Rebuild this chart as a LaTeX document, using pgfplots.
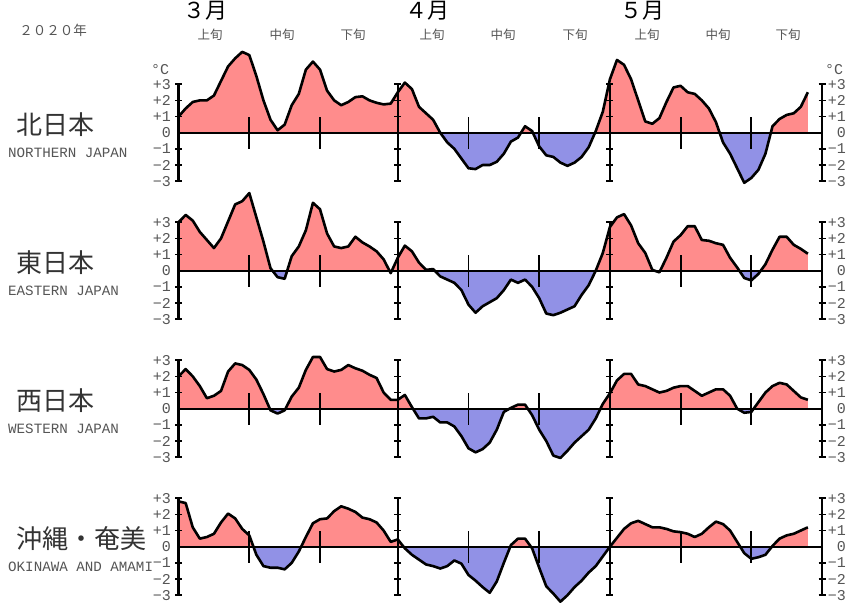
\documentclass[border=0pt]{standalone}
\usepackage{fontspec}
\usepackage{pgfplots}
\usepackage{pgfplotstable}
\pgfplotsset{compat=1.18}

\newfontfamily\mono{Liberation Mono}
\newfontfamily\cjk{Noto Sans CJK JP}

\definecolor{pos}{RGB}{255,140,140}
\definecolor{neg}{RGB}{145,145,230}
\definecolor{txt}{RGB}{85,85,85}

% daily temperature anomaly (5-day mean), day 0 = 1 March
\pgfplotstableread{
d n e w o
0 1.0 3.0 2.0 2.8
1 1.5 3.45 2.45 2.7
2 1.9 3.1 2.0 1.2
3 2.0 2.4 1.4 0.5
4 2.0 1.9 0.65 0.6
5 2.3 1.4 0.8 0.8
6 3.2 2.0 1.1 1.5
7 4.1 3.05 2.3 2.05
8 4.6 4.1 2.8 1.75
9 5.0 4.3 2.7 1.1
10 4.8 4.8 2.4 0.7
11 3.5 3.3 1.8 -0.5
12 2.0 1.8 0.9 -1.2
13 0.8 0.15 -0.1 -1.3
14 0.15 -0.4 -0.3 -1.3
15 0.5 -0.5 -0.1 -1.4
16 1.7 0.9 0.75 -1.0
17 2.4 1.5 1.3 -0.3
18 3.9 2.5 2.4 0.6
19 4.4 4.2 3.2 1.45
20 3.9 3.8 3.2 1.7
21 2.6 2.3 2.45 1.75
22 2.0 1.5 2.3 2.2
23 1.7 1.4 2.4 2.5
24 1.9 1.5 2.7 2.35
25 2.2 2.1 2.5 2.15
26 2.25 1.75 2.35 1.8
27 2.0 1.5 2.1 1.7
28 1.85 1.2 1.9 1.5
29 1.75 0.7 1.0 1.0
30 1.8 -0.15 0.55 0.3
31 2.5 0.8 0.55 0.45
32 3.1 1.55 0.85 -0.1
33 2.7 1.2 0.1 -0.5
34 1.6 0.5 -0.6 -0.8
35 1.2 0.05 -0.6 -1.1
36 0.8 0.1 -0.5 -1.2
37 0.0 -0.35 -0.85 -1.35
38 -0.6 -0.55 -0.85 -1.2
39 -1.0 -0.75 -1.1 -0.85
40 -1.6 -1.2 -1.7 -1.05
41 -2.2 -2.1 -2.45 -1.75
42 -2.25 -2.6 -2.7 -2.1
43 -2.0 -2.2 -2.5 -2.5
44 -2.0 -1.95 -2.1 -2.85
45 -1.8 -1.7 -1.3 -2.15
46 -1.3 -1.2 -0.2 -1.0
47 -0.55 -0.55 0.05 0.1
48 -0.3 -0.75 0.25 0.5
49 0.4 -0.55 0.25 0.5
50 0.1 -1.0 -0.4 -0.1
51 -0.85 -1.7 -1.3 -1.3
52 -1.4 -2.65 -2.0 -2.45
53 -1.5 -2.75 -2.9 -2.9
54 -1.85 -2.6 -3.05 -3.4
55 -2.05 -2.4 -2.6 -3.0
56 -1.85 -2.2 -2.1 -2.5
57 -1.5 -1.5 -1.7 -2.1
58 -0.9 -0.9 -1.3 -1.6
59 0.1 0.0 -0.6 -1.2
60 1.3 1.1 0.3 -0.6
61 3.3 2.7 0.95 0.0
62 4.5 3.3 1.75 0.55
63 4.2 3.5 2.15 1.1
64 3.3 2.8 2.15 1.45
65 2.0 1.7 1.5 1.6
66 0.7 1.1 1.4 1.4
67 0.55 0.05 1.2 1.2
68 0.9 -0.1 1.0 1.2
69 1.9 0.8 1.1 1.1
70 2.8 1.8 1.3 0.95
71 2.9 2.2 1.4 0.9
72 2.5 2.75 1.4 0.8
73 2.4 2.75 1.1 0.6
74 2.0 1.9 0.8 0.8
75 1.5 1.85 1.0 1.2
76 0.65 1.7 1.2 1.55
77 -0.6 1.6 1.2 1.4
78 -1.3 0.8 0.8 1.0
79 -2.2 0.2 0.0 0.3
80 -3.1 -0.45 -0.25 -0.4
81 -2.8 -0.6 -0.2 -0.75
82 -2.3 -0.2 0.4 -0.65
83 -1.3 0.4 1.0 -0.5
84 0.4 1.3 1.4 0.05
85 0.85 2.1 1.6 0.5
86 1.1 2.1 1.5 0.7
87 1.2 1.6 1.1 0.8
88 1.6 1.35 0.7 1.0
89 2.5 1.05 0.55 1.2
}\anom

\pgfplotsset{
  base/.style={scale only axis, width=643.4pt, height=97pt,
    xmin=0, xmax=91, hide axis, anchor=south west},
}
\tikzset{
  lab/.style={font=\mono\fontsize{15}{15}\selectfont, text=txt, inner sep=0pt},
  eng/.style={font=\mono\fontsize{14.2}{15}\selectfont, text=txt, inner sep=0pt},
}

\newcommand\ticklabels[2]{%
  \node[lab,#2] at (axis cs:#1,3) {+3};
  \node[lab,#2] at (axis cs:#1,2) {+2};
  \node[lab,#2] at (axis cs:#1,1) {+1};
  \node[lab,#2] at (axis cs:#1,0) {0};
  \node[lab,#2] at (axis cs:#1,-1) {−1};
  \node[lab,#2] at (axis cs:#1,-2) {−2};
  \node[lab,#2] at (axis cs:#1,-3) {−3};
}

\newcommand\tk[2]{([xshift=-3.5pt]axis cs:#1,#2) -- ([xshift=3.5pt]axis cs:#1,#2)}
\newcommand\rul[1]{%
  \draw[line width=2.4pt] (axis cs:#1,-3) -- (axis cs:#1,3);
  \draw[line width=1.6pt] \tk{#1}{-3} \tk{#1}{-2} \tk{#1}{-1} \tk{#1}{1} \tk{#1}{2} \tk{#1}{3};
}

\newcommand\dek[1]{\draw[line width=1.8pt] (axis cs:#1,-1) -- (axis cs:#1,1);}

% #1 column, #2 zero-line height (pt)
\newcommand\panel[2]{%
  \begin{axis}[base, ymin=0, ymax=6, at={(178.6pt,#2pt)}]
    \addplot[fill=pos, draw=none] table[x=d,y=#1] {\anom} \closedcycle;
  \end{axis}
  \begin{axis}[base, ymin=-6, ymax=0, at={(178.6pt,#2pt-97pt)}]
    \addplot[fill=neg, draw=none] table[x=d,y=#1] {\anom} \closedcycle;
  \end{axis}
  \begin{axis}[base, ymin=-3, ymax=3, clip=false, at={(178.6pt,#2pt-48.5pt)}]
    \draw[line width=1.8pt] (axis cs:0,0) -- (axis cs:91,0);
    \addplot[black, line width=2.6pt, line join=round] table[x=d,y=#1] {\anom};
    \dek{10}\dek{20}\dek{41}\dek{51}\dek{71}\dek{81}
    \rul{0}\rul{31}\rul{61}\rul{91}
    \ticklabels{0}{anchor=east,xshift=-7.5pt}
    \ticklabels{91}{anchor=east,xshift=24pt}
  \end{axis}}

\begin{document}
\begin{tikzpicture}
\path[use as bounding box] (0pt,0pt) rectangle (850pt,606pt);

\panel{n}{473.3}
\panel{e}{335.3}
\panel{w}{197.3}
\panel{o}{59.3}

% header
\begin{scope}[x=1pt, y=1pt, every node/.style={inner sep=0pt}]
\node[font=\cjk\fontsize{13.5}{14}\selectfont, text=txt] at (53,576) {２０２０年};
\foreach \x/\m in {205/３月, 427/４月, 642/５月}
  \node[font=\cjk\fontsize{22}{22}\selectfont] at (\x,595) {\m};
\foreach \x/\t in {210/上旬, 282/中旬, 353/下旬, 432/上旬, 503/中旬, 575/下旬, 647/上旬, 718/中旬, 788/下旬}
  \node[font=\cjk\fontsize{12.5}{13}\selectfont, text=txt] at (\x,571) {\t};
\node[lab] at (160,536) {°C};
\node[lab] at (834,536) {°C};

% region names
\foreach \z/\j/\e in {473.3/北日本/NORTHERN JAPAN, 335.3/東日本/EASTERN JAPAN, 197.3/西日本/WESTERN JAPAN, 59.3/沖縄・奄美/OKINAWA AND AMAMI} {
  \node[anchor=west, font=\cjk\fontsize{26}{26}\selectfont, text=black!80] at (16,\z+8) {\j};
  \node[anchor=west, eng] at (8,\z-20) {\e};
}
\end{scope}
\end{tikzpicture}
\end{document}
